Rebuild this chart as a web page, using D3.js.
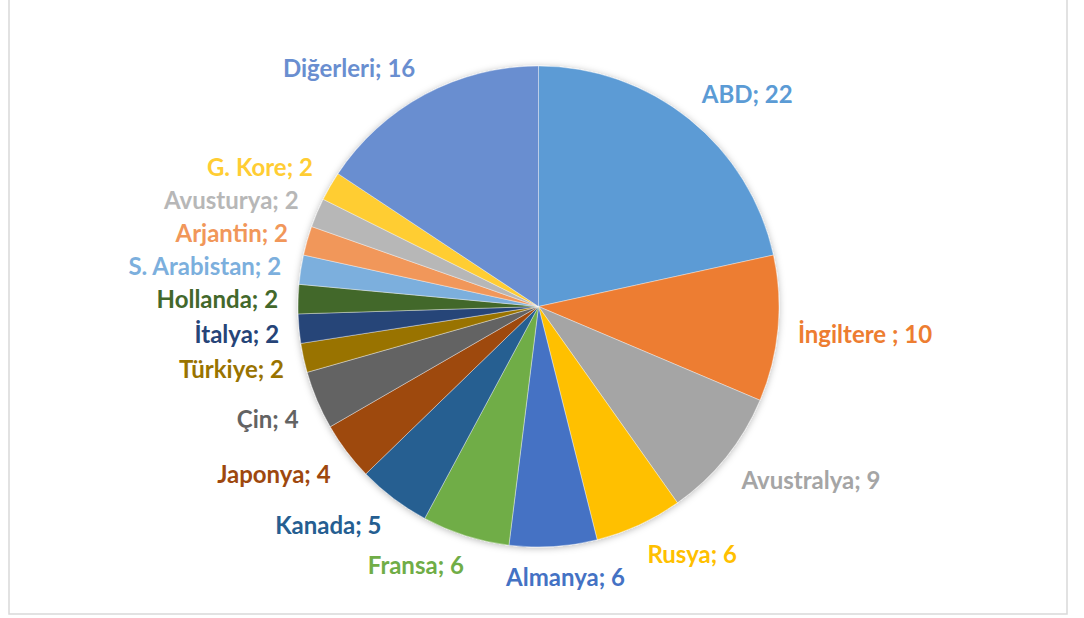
<!DOCTYPE html>
<html>
<head>
<meta charset="utf-8">
<script src="https://cdn.jsdelivr.net/npm/d3@7/dist/d3.min.js"></script>
<style>
  html, body { margin: 0; padding: 0; background: #fff; }
  svg { display: block; }
  .lbl { font-family: Lato, "Open Sans", sans-serif; font-weight: 700; font-size: 24px; }
</style>
</head>
<body>
<div id="chart"></div>
<script>
// Country counts, clockwise from 12 o'clock
const countries = ['ABD', 'İngiltere ', 'Avustralya', 'Rusya', 'Almanya', 'Fransa', 'Kanada', 'Japonya',
  'Çin', 'Türkiye', 'İtalya', 'Hollanda', 'S. Arabistan', 'Arjantin', 'Avusturya', 'G. Kore', 'Diğerleri'];
const counts = [22, 10, 9, 6, 6, 6, 5, 4, 4, 2, 2, 2, 2, 2, 2, 2, 16];
const colors = ['#5B9BD5', '#ED7D31', '#A5A5A5', '#FFC000', '#4472C4', '#70AD47', '#255E91', '#9E480E',
  '#636363', '#997300', '#264478', '#43682B', '#7CAFDD', '#F1975A', '#B7B7B7', '#FFCD33', '#698ED0'];

const width = 1084, height = 618;
const cx = 538.5, cy = 306.5, radius = 240.5;

const data = countries.map((name, i) => ({ name, value: counts[i], color: colors[i] }));

const svg = d3.select('#chart').append('svg')
  .attr('width', width)
  .attr('height', height);

// chart frame
svg.append('rect')
  .attr('x', 9).attr('y', -4)
  .attr('width', 1058).attr('height', 618)
  .attr('fill', '#fff')
  .attr('stroke', '#D9D9D9')
  .attr('stroke-width', 1.5);

const defs = svg.append('defs');
const shadow = defs.append('filter').attr('id', 'soft').attr('x', '-10%').attr('y', '-10%')
  .attr('width', '120%').attr('height', '120%');
shadow.append('feDropShadow')
  .attr('dx', 0).attr('dy', 1).attr('stdDeviation', 3.5)
  .attr('flood-color', '#000').attr('flood-opacity', 0.28);

const pie = d3.pie().sort(null).value(d => d.value);
const arcs = pie(data);
const arc = d3.arc().innerRadius(0).outerRadius(radius);

const g = svg.append('g').attr('transform', `translate(${cx},${cy})`);

g.append('g')
  .attr('filter', 'url(#soft)')
  .selectAll('path')
  .data(arcs)
  .join('path')
  .attr('d', arc)
  .attr('fill', d => d.data.color)
  .attr('stroke', '#fff')
  .attr('stroke-opacity', 0.5)
  .attr('stroke-width', 0.75);

// Labels: box corner touches a point just outside the slice, at the mid angle
const gap = 20, boxH = 20;
const clamp = v => Math.max(-1, Math.min(1, v));

const labels = g.append('g').selectAll('text')
  .data(arcs)
  .join('text')
  .attr('class', 'lbl')
  .attr('fill', d => d.data.color)
  .attr('text-anchor', 'middle')
  .attr('dominant-baseline', 'central')
  .text(d => `${d.data.name}; ${d.data.value}`);

const pos = [];
labels.each(function(d) {
  const w = this.getComputedTextLength();
  const a = (d.startAngle + d.endAngle) / 2;
  const s = Math.sin(a), c = Math.cos(a);
  const px = (radius + gap) * s, py = -(radius + gap) * c;
  pos.push({ d, x: px + clamp(s * 3) * w / 2, y: py - clamp(c * 3) * boxH / 2, left: s < 0 });
});

// keep the stacked labels on the left side apart
const leftSide = pos.filter(p => p.left && Math.abs(p.y) < radius).sort((a, b) => a.y - b.y);
for (let i = 1; i < leftSide.length; i++) {
  if (leftSide[i].y - leftSide[i - 1].y < 33) leftSide[i].y = leftSide[i - 1].y + 33;
}

labels.attr('x', (d, i) => pos[i].x).attr('y', (d, i) => pos[i].y);
</script>
</body>
</html>
